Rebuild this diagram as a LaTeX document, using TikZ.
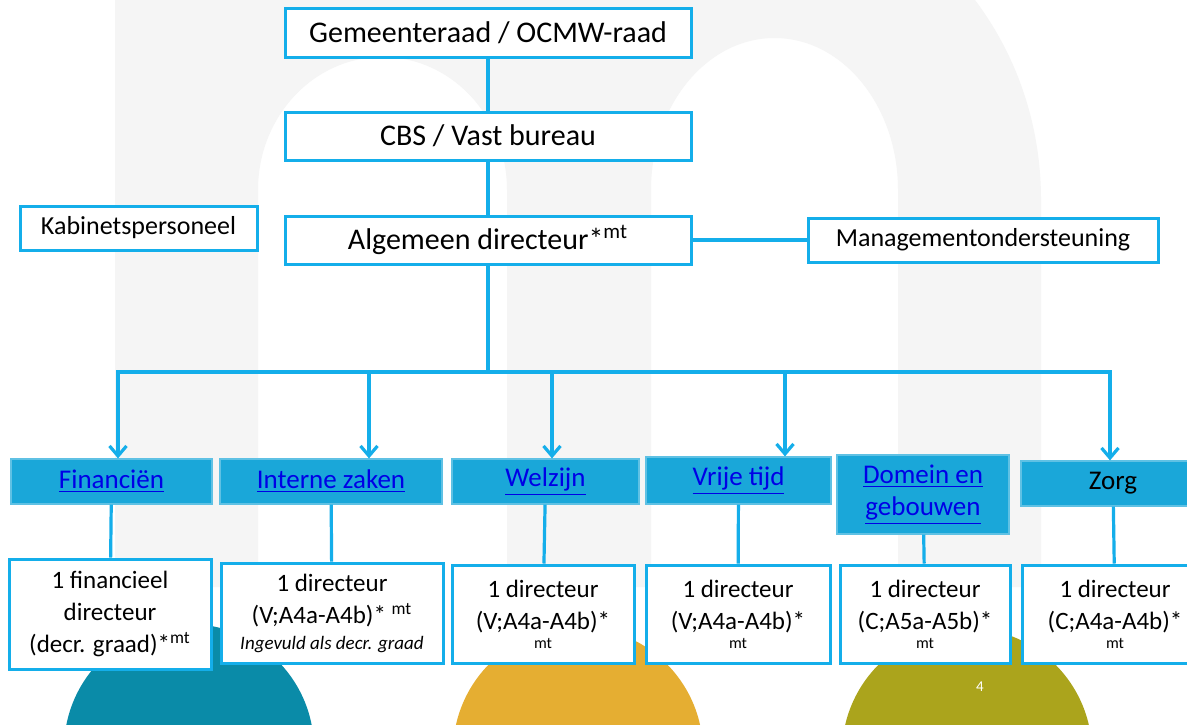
\documentclass[tikz,border=0pt]{standalone}
\usepackage{fontspec}
\setmainfont{Carlito}
\usetikzlibrary{arrows.meta}

\definecolor{lineblue}{HTML}{14AEEA}
\definecolor{hdrblue}{HTML}{1AA7D9}
\definecolor{linkblue}{HTML}{0000E6}
\definecolor{bggray}{HTML}{F5F5F5}
\definecolor{circteal}{HTML}{0A8BA8}
\definecolor{circgold}{HTML}{E5AE32}
\definecolor{circolive}{HTML}{ABA41C}

\newcommand*{\picw}{1187}
\newcommand*{\pich}{724}
\newcommand*{\ybus}{372}
\newcommand*{\hlink}[1]{\textcolor{linkblue}{\underline{#1}}}

\begin{document}
\begin{tikzpicture}
[
	x=0.5pt,y=-0.5pt,
	conn/.style={draw=lineblue,line width=1.6pt},
	arr/.style={conn,-{Straight Barb[length=5pt,width=8.5pt]}},
	topbox/.style={draw=lineblue,line width=1.5pt,fill=white,inner sep=0pt,font=\fontsize{15}{18}\selectfont},
	sidebox/.style={topbox,font=\fontsize{13}{16}\selectfont},
	unitbox/.style={fill=hdrblue,draw=hdrblue!70!white,line width=0.6pt,inner sep=0pt,align=center,font=\fontsize{13.5}{16}\selectfont},
	staffbox/.style={topbox,align=center,font=\fontsize{12.5}{16}\selectfont}
]

	\useasboundingbox (0,0) rectangle (\picw,\pich);
	\clip (0,0) rectangle (\picw,\pich);
	\fill[white] (0,0) rectangle (\picw,\pich);

	% background letter
	\fill[bggray] (115,0) -- (975,0) .. controls (1020,60) and (1041,130) .. (1041,200)
	  -- (1041,587) -- (898,587) -- (898,190)
	  .. controls (898,106) and (842.7,38) .. (774.5,38)
	  .. controls (706.3,38) and (651,106) .. (651,190)
	  -- (651,587) -- (507,587) -- (507,190)
	  .. controls (507,116.5) and (451.3,57) .. (382.5,57)
	  .. controls (313.7,57) and (258,116.5) .. (258,190)
	  -- (258,587) -- (115,587) -- cycle;

	% circles
	\fill[circteal] (189,749) circle[radius=125];
	\fill[circgold] (578,752) circle[radius=125];
	\fill[circolive] (967,753) circle[radius=125];
	\node[text=white,font=\fontsize{7.5}{9}\selectfont] (pg) at (980,687) {4};

	% top
	\node[topbox,minimum width=203pt,minimum height=24.5pt] (gr) at (488,32.5) {Gemeenteraad / OCMW-raad};
	\node[topbox,minimum width=203pt,minimum height=24pt] (cbs) at (488,136) {CBS / Vast bureau};
	\node[topbox,minimum width=203pt,minimum height=24pt] (ad) at (488,240) {Algemeen directeur*\textsuperscript{mt}};
	\node[sidebox,minimum width=118.5pt,minimum height=22pt] (kab) at (138.5,228) {Kabinetspersoneel};
	\node[sidebox,minimum width=175pt,minimum height=22pt] (mgmt) at (983,240) {Managementondersteuning};

	\draw[conn] (gr) -- (cbs);
	\draw[conn] (cbs) -- (ad);
	\draw[conn] (ad) -- (mgmt);

	% departments
	\node[unitbox,minimum width=100.5pt,minimum height=22.5pt] (fin) at (111.5,481.5) {\hlink{Financiën}};
	\node[unitbox,minimum width=111pt,minimum height=22.5pt] (iz) at (331,481.5) {\hlink{Interne zaken}};
	\node[unitbox,minimum width=93.5pt,minimum height=22.5pt] (wz) at (545.5,481.5) {\hlink{Welzijn}};
	\node[unitbox,minimum width=92.5pt,minimum height=23.5pt] (vt) at (738.5,480.5) {\hlink{Vrije tijd}};
	\node[unitbox,minimum width=86pt,minimum height=39.5pt] (dg) at (923,494.5) {\hlink{Domein en}\\\hlink{gebouwen}};
	\node[unitbox,minimum width=92pt,minimum height=22.5pt] (zo) at (1113,483.5) {Zorg};

	% bus
	\coordinate (busl) at (118,\ybus);
	\coordinate (busr) at (1110,\ybus);
	\draw[conn] (ad) -- (ad |- busl);
	\draw[conn,line cap=rect] (busl) -- (busr);
	\foreach \x/\n in {118/fin,369/iz,552/wz,785/vt,1110/zo} {
		\draw[arr] (\x,\ybus) -- (\x,0 |- \n.north);
	}

	% directors
	\node[staffbox,minimum width=101pt,minimum height=55pt] (b1) at (110,614)
	  {1 financieel\\directeur\\(decr. graad)*\textsuperscript{mt}};
	\node[staffbox,minimum width=111pt,minimum height=50pt] (b2) at (332,613)
	  {1 directeur\\(V;A4a-A4b)* \textsuperscript{mt}\\[-3pt]{\fontsize{9.5}{11}\selectfont\itshape Ingevuld als decr. graad}};
	\node[staffbox,minimum width=91pt,minimum height=49pt] (b3) at (543,614)
	  {1 directeur\\(V;A4a-A4b)*\\[-6.5pt]{\fontsize{8}{9}\selectfont mt}};
	\node[staffbox,minimum width=92pt,minimum height=49pt] (b4) at (738,614)
	  {1 directeur\\(V;A4a-A4b)*\\[-6.5pt]{\fontsize{8}{9}\selectfont mt}};
	\node[staffbox,minimum width=85pt,minimum height=49pt] (b5) at (925,614)
	  {1 directeur\\(C;A5a-A5b)*\\[-6.5pt]{\fontsize{8}{9}\selectfont mt}};
	\node[staffbox,minimum width=93pt,minimum height=49pt] (b6) at (1115,614)
	  {1 directeur\\(C;A4a-A4b)*\\[-6.5pt]{\fontsize{8}{9}\selectfont mt}};

	\foreach \a/\b in {fin/b1,iz/b2,wz/b3,vt/b4,dg/b5,zo/b6} {
		\draw[conn] (\a) -- (\b);
	}

\end{tikzpicture}
\end{document}
